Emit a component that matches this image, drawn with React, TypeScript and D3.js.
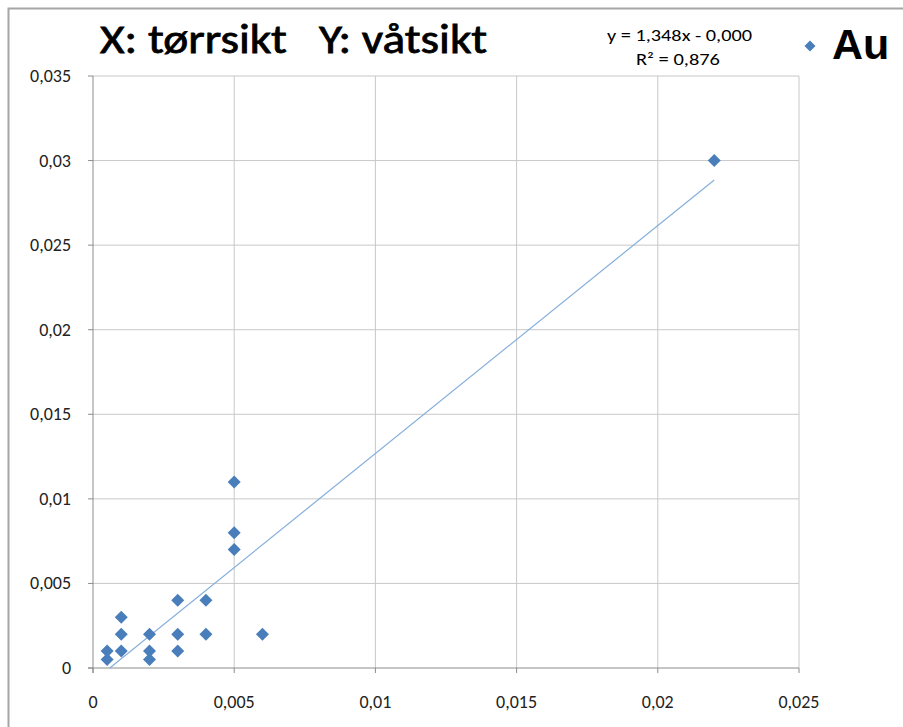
import React from "react";
import * as d3 from "d3";

const xValues = [0.0005, 0.0005, 0.001, 0.001, 0.001, 0.002, 0.002, 0.002, 0.003, 0.003, 0.003, 0.004, 0.004, 0.005, 0.005, 0.005, 0.006, 0.022];
const yValues = [0.001, 0.0005, 0.003, 0.002, 0.001, 0.002, 0.001, 0.0005, 0.004, 0.002, 0.001, 0.004, 0.002, 0.011, 0.008, 0.007, 0.002, 0.03];
const xTicks = [0, 0.005, 0.01, 0.015, 0.02, 0.025];
const yTicks = [0, 0.005, 0.01, 0.015, 0.02, 0.025, 0.03, 0.035];
const xTickLabels = ["0", "0,005", "0,01", "0,015", "0,02", "0,025"];
const yTickLabels = ["0", "0,005", "0,01", "0,015", "0,02", "0,025", "0,03", "0,035"];
const trendSlope = 1.348;
const trendIntercept = -0.0008;
const titleText = "X: tørrsikt   Y: våtsikt";
const seriesName = "Au";
const equationText = "y = 1,348x - 0,000";
const r2Text = "R² = 0,876";

const W = 903;
const H = 727;
const left = 93, right = 799, top = 76, bottom = 668;
const font = "Carlito, 'Liberation Sans Narrow', 'Open Sans', 'Liberation Sans', sans-serif";

export default function App() {
  const x = d3.scaleLinear().domain([0, 0.025]).range([left, right]);
  const y = d3.scaleLinear().domain([0, 0.035]).range([bottom, top]);

  const x0 = Math.max(d3.min(xValues)!, -trendIntercept / trendSlope);
  const x1 = d3.max(xValues)!;

  const diamond = (cx: number, cy: number, r: number) =>
    `M${cx},${cy - r}L${cx + r},${cy}L${cx},${cy + r}L${cx - r},${cy}Z`;

  return (
    <svg width={W} height={H} style={{ position: "absolute", left: 0, top: 0, background: "#fff" }}>
      <rect x={0} y={0} width={W} height={H} fill="#fff" />
      <path d={`M8.5,${H}V8.5H${W}`} fill="none" stroke="#a6a6a6" strokeWidth={2} />
      {xTicks.slice(1).map((t) => (
        <line key={"gx" + t} x1={x(t)} x2={x(t)} y1={top} y2={bottom} stroke="#c8c8c8" strokeWidth={1} />
      ))}
      {yTicks.slice(1).map((t) => (
        <line key={"gy" + t} x1={left} x2={right} y1={y(t)} y2={y(t)} stroke="#c8c8c8" strokeWidth={1} />
      ))}
      <line x1={left} x2={left} y1={top} y2={bottom + 5} stroke="#8c8c8c" strokeWidth={1} />
      <line x1={left - 5} x2={right} y1={bottom} y2={bottom} stroke="#8c8c8c" strokeWidth={1} />
      {yTicks.map((t) => (
        <line key={"ty" + t} x1={left - 5} x2={left} y1={y(t)} y2={y(t)} stroke="#8c8c8c" />
      ))}
      {xTicks.map((t) => (
        <line key={"tx" + t} x1={x(t)} x2={x(t)} y1={bottom} y2={bottom + 5} stroke="#8c8c8c" />
      ))}
      {yTicks.map((t, i) => (
        <text key={"ly" + t} x={left - 22} y={y(t) + 6} textAnchor="end" fontFamily={font} fontSize={18} fill="#222">
          {yTickLabels[i]}
        </text>
      ))}
      {xTicks.map((t, i) => (
        <text key={"lx" + t} x={x(t)} y={bottom + 40} textAnchor="middle" fontFamily={font} fontSize={18} fill="#222">
          {xTickLabels[i]}
        </text>
      ))}
      <line x1={x(x0)} y1={y(trendSlope * x0 + trendIntercept)} x2={x(x1)} y2={y(trendSlope * x1 + trendIntercept)} stroke="#86aedb" strokeWidth={1.2} />
      {xValues.map((v, i) => (
        <path key={"p" + i} d={diamond(x(v), y(yValues[i]), 6.5)} fill="#4a7ebb" />
      ))}
      <text x={100} y={53} fontFamily={font} fontSize={42} fill="#000" stroke="#000" strokeWidth={0.8} textLength={387} lengthAdjust="spacingAndGlyphs" style={{ whiteSpace: "pre" }}>
        {titleText}
      </text>
      <text x={607} y={41} fontFamily={font} fontSize={16} fill="#000" textLength={145} lengthAdjust="spacingAndGlyphs">{equationText}</text>
      <text x={636} y={65} fontFamily={font} fontSize={16} fill="#000" textLength={84} lengthAdjust="spacingAndGlyphs">{r2Text}</text>
      <path d={diamond(810, 46, 5.5)} fill="#4a7ebb" />
      <text x={832} y={59} fontFamily="'Liberation Sans', Arial, sans-serif" fontWeight="bold" fontSize={43} fill="#000">{seriesName}</text>
    </svg>
  );
}
